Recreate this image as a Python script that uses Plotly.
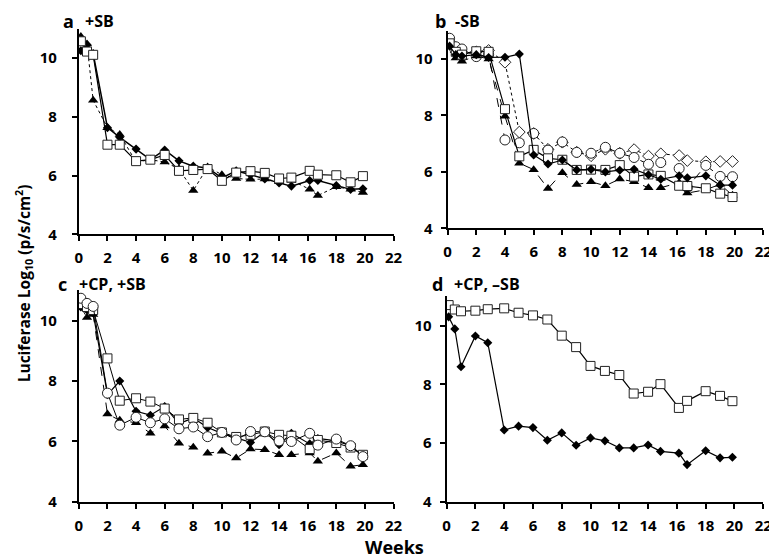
import plotly.graph_objects as go

# sampling times (weeks)
weeks = [0.14, 0.57, 1, 2, 2.86, 4, 5, 6, 7, 8, 9, 10, 11, 12, 13, 14, 14.86, 16.14, 16.71, 18, 19, 19.86]

# panel a: +SB
a_diamond = [10.25, 10.45, 10.15, 7.63, 7.3, 6.9, 6.54, 6.87, 6.5, 6.32, 6.26, 5.92, 6.16, 6.03, 5.88, 5.75, 5.64, 5.83, 5.83, 5.66, 5.53, 5.55]
a_triangle = [10.73, 10.48, 8.56, 7.63, 7.4, 6.46, 6.54, 6.46, 6.23, 5.49, 6.29, 6.03, 5.9, 5.87, 5.88, 5.79, 5.84, 5.53, 5.32, 5.62, 5.53, 5.42]
a_square = [10.57, 10.22, 10.11, 7.05, 7.05, 6.49, 6.54, 6.7, 6.16, 6.19, 6.22, 5.82, 6.1, 6.15, 6.09, 5.9, 5.93, 6.16, 6.03, 6.01, 5.77, 5.98]

# panel b: -SB
b_diamond = [10.45, 10.15, 10.1, 10.15, 10.05, 10.06, 10.17, 6.6, 6.28, 6.42, 6.07, 6.09, 6.0, 6.06, 6.09, 5.9, 5.74, 5.86, 5.79, 5.86, 5.53, 5.53]
b_open_diamond = [10.6, 10.25, 10.2, 10.25, 10.3, 9.88, 7.41, 7.36, 6.8, 7.05, 6.7, 6.57, 6.8, 6.66, 6.79, 6.56, 6.64, 6.58, 6.4, 6.36, 6.37, 6.37]
b_circle = [10.73, 10.43, 10.35, 10.08, 10.15, 7.13, 7.03, 7.36, 6.77, 7.06, 6.69, 6.66, 6.87, 6.66, 6.51, 6.27, 6.33, 6.12, 5.45, 6.23, 5.84, 5.83]
b_square = [10.55, 10.25, 10.15, 10.27, 10.25, 8.22, 6.55, 6.78, 6.48, 6.43, 6.07, 6.08, 6.07, 6.24, 5.83, 5.91, 5.86, 5.51, 5.5, 5.42, 5.23, 5.11]
b_triangle = [10.45, 10.03, 9.92, 10.1, 10.0, 7.97, 6.31, 6.08, 5.41, 5.97, 5.55, 5.65, 5.51, 5.75, 5.65, 5.44, 5.44, 5.62, 5.25, 5.37, 5.56, 5.17]

# panel c: +CP, +SB
c_diamond = [10.45, 10.35, 10.25, 7.55, 8.0, 7.0, 6.87, 7.16, 6.59, 6.78, 6.46, 6.27, 6.13, 5.97, 6.32, 5.89, 6.27, 5.92, 6.1, 6.02, 5.86, 5.54]
c_square = [10.55, 10.45, 10.35, 8.75, 7.35, 7.43, 7.32, 7.09, 6.73, 6.78, 6.62, 6.3, 6.15, 6.22, 6.33, 6.22, 6.19, 5.75, 6.05, 5.95, 5.8, 5.56]
c_circle = [10.74, 10.57, 10.47, 7.6, 6.54, 6.8, 6.62, 6.75, 6.42, 6.48, 6.16, 6.3, 6.05, 6.33, 6.32, 6.02, 6.0, 6.27, 5.88, 6.08, 5.86, 5.5]
c_triangle = [10.45, 10.1, 10.2, 6.91, 6.7, 6.62, 6.27, 6.51, 5.94, 5.81, 5.61, 5.68, 5.45, 5.75, 5.73, 5.56, 5.56, 5.62, 5.35, 5.62, 5.18, 5.23]

# panel d: +CP, -SB
d_diamond = [10.3, 9.89, 8.6, 9.65, 9.42, 6.45, 6.58, 6.53, 6.1, 6.35, 5.93, 6.18, 6.08, 5.84, 5.84, 5.94, 5.72, 5.66, 5.27, 5.74, 5.5, 5.52]
d_square = [10.7, 10.55, 10.49, 10.51, 10.56, 10.59, 10.44, 10.35, 10.21, 9.66, 9.27, 8.63, 8.46, 8.32, 7.69, 7.75, 8.01, 7.2, 7.44, 7.77, 7.61, 7.43]

W, H = 777, 560
FONT = "Open Sans"

MARKERS = {
    "diamond": dict(symbol="diamond", size=7, color="black"),
    "triangle": dict(symbol="triangle-up", size=9, color="black"),
    "square": dict(symbol="square", size=9, color="white", line=dict(color="#222", width=1)),
    "circle": dict(symbol="circle", size=10, color="white", line=dict(color="#222", width=1)),
    "open_diamond": dict(symbol="diamond", size=9, color="white", line=dict(color="#222", width=1)),
}

fig = go.Figure()


def add_series(ax, y, marker, dash="solid", width=1.2):
    fig.add_trace(go.Scatter(
        x=weeks, y=y, mode="lines+markers",
        xaxis="x" + ax, yaxis="y" + ax,
        line=dict(color="black", width=width, dash=dash),
        marker=MARKERS[marker],
        showlegend=False,
    ))


# panel a
add_series("", a_triangle, "triangle", "dot", 1)
add_series("", a_diamond, "diamond", "solid", 1.5)
add_series("", a_square, "square", "solid", 1.2)
# panel b
add_series("2", b_open_diamond, "open_diamond", "dot", 1)
add_series("2", b_circle, "circle", "dash", 1)
add_series("2", b_triangle, "triangle", "dash", 1)
add_series("2", b_square, "square", "solid", 1.2)
add_series("2", b_diamond, "diamond", "solid", 1.2)
# panel c
add_series("3", c_triangle, "triangle", "dash", 1)
add_series("3", c_diamond, "diamond", "solid", 1.2)
add_series("3", c_square, "square", "solid", 1)
add_series("3", c_circle, "circle", "solid", 1)
# panel d
add_series("4", d_square, "square", "solid", 1.2)
add_series("4", d_diamond, "diamond", "solid", 1.2)


def px_x(p):
    return p / W


def px_y(p):
    return 1 - p / H


axis_common = dict(
    showgrid=False, zeroline=False, showline=True, linecolor="black", linewidth=2,
    ticks="outside", ticklen=5, tickwidth=1.5, tickcolor="black",
    tickfont=dict(family=FONT, size=15, color="black", weight="bold"),
)

# panel key -> (x px span, y px span, y tick label gap)
domains = {
    "": ((68, 388), (230, 21), 12),
    "2": ((443, 764), (224, 23), 5),
    "3": ((68, 388), (502, 287), 12),
    "4": ((442, 764), (502, 293), 5),
}

layout = dict(
    width=W, height=H, margin=dict(l=0, r=0, t=0, b=0),
    plot_bgcolor="white", paper_bgcolor="white",
    font=dict(family=FONT, color="black"),
)
for ax, (xd, yd, gap) in domains.items():
    layout["xaxis" + ax] = dict(axis_common, domain=[px_x(xd[0]), px_x(xd[1])],
                                range=[0, 22], tickvals=list(range(0, 23, 2)),
                                ticklabelstandoff=4, anchor="y" + ax)
    layout["yaxis" + ax] = dict(axis_common, domain=[px_y(yd[0]), px_y(yd[1])],
                                range=[4, 11], tickvals=[4, 6, 8, 10],
                                ticklabelstandoff=gap, anchor="x" + ax)
fig.update_layout(**layout)

titles = [
    (50, 13, "a", 72, "+SB"),
    (428, 13, "b", 448, "-SB"),
    (45, 280, "c", 66, "+CP, +SB"),
    (425, 280, "d", 447, "+CP, \u2013SB"),
]
for lx, ly, letter, tx, text in titles:
    fig.add_annotation(x=px_x(lx), y=px_y(ly), xref="paper", yref="paper",
                       text="<b>" + letter + "</b>", showarrow=False,
                       xanchor="left", yanchor="middle",
                       font=dict(family=FONT, size=18, color="black"))
    fig.add_annotation(x=px_x(tx), y=px_y(ly), xref="paper", yref="paper",
                       text="<b>" + text + "</b>", showarrow=False,
                       xanchor="left", yanchor="middle",
                       font=dict(family=FONT, size=16, color="black"))

fig.add_annotation(x=px_x(12), y=0.5, xref="paper", yref="paper",
                   text="<b>Luciferase Log<sub>10</sub> (p/s/cm<sup>2</sup>)</b>",
                   showarrow=False, textangle=-90, xanchor="center", yanchor="middle",
                   font=dict(family=FONT, size=15.5, color="black"))
fig.add_annotation(x=px_x(389), y=px_y(548), xref="paper", yref="paper",
                   text="<b>Weeks</b>", showarrow=False, xanchor="center", yanchor="middle",
                   font=dict(family=FONT, size=18, color="black"))

fig.write_html("out.html")
